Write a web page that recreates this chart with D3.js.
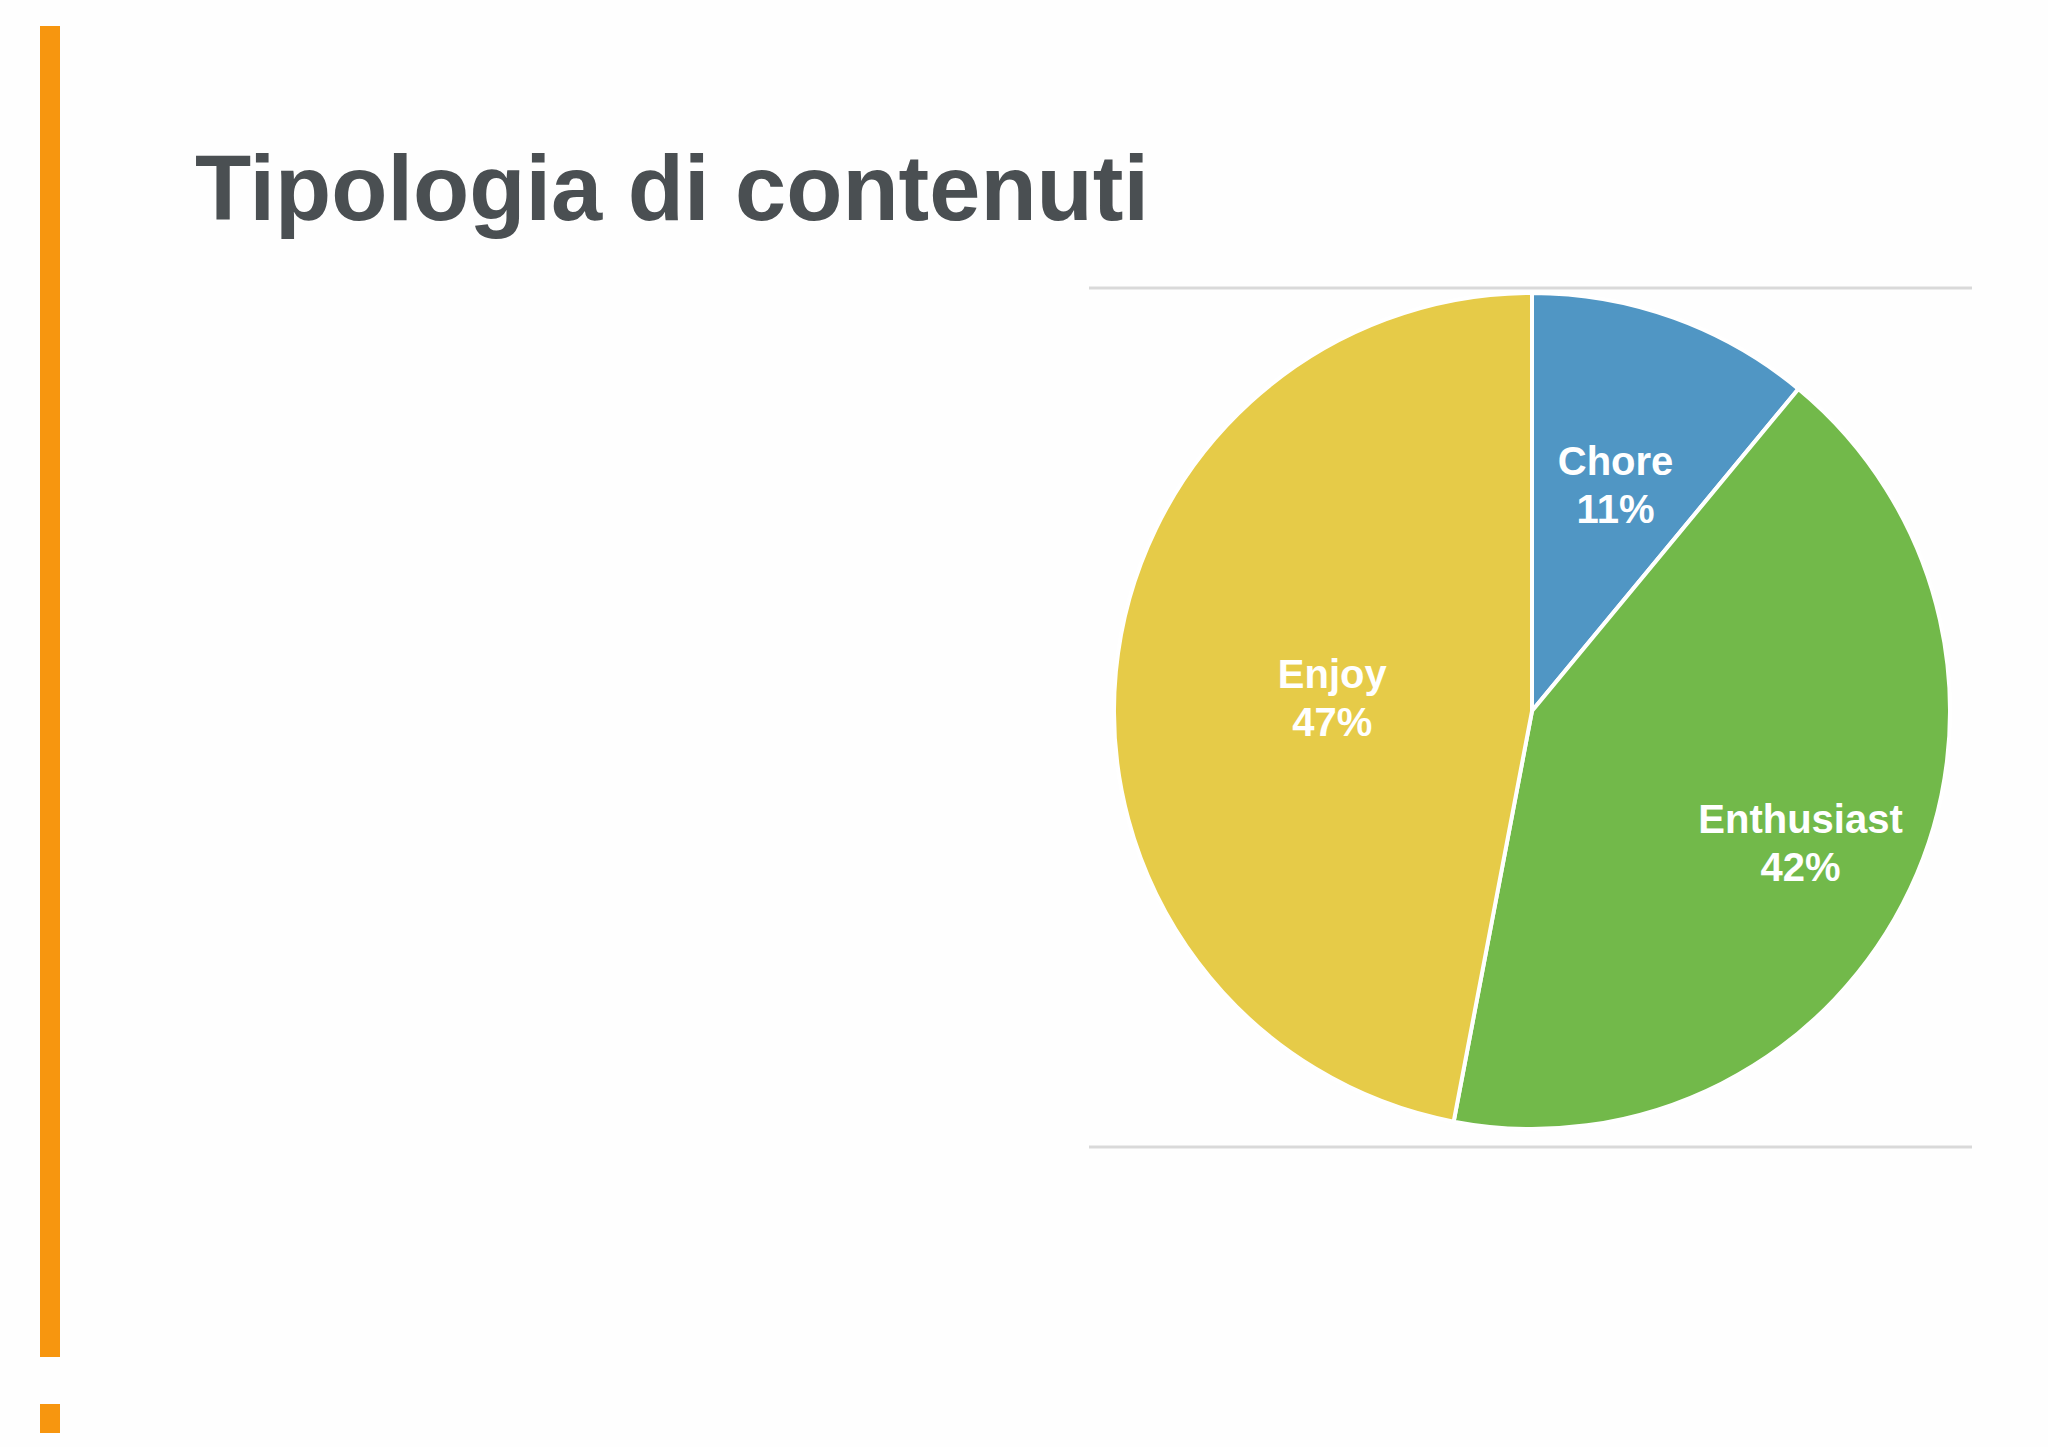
<!DOCTYPE html>
<html>
<head>
<meta charset="utf-8">
<script src="https://cdn.jsdelivr.net/npm/d3@7"></script>
<style>
  body { margin: 0; background: #fefefe; }
  text { font-family: "Liberation Sans", Arial, sans-serif; }
</style>
</head>
<body>
<svg id="chart" width="2048" height="1447"></svg>
<script>
// Data
var categories = ["Chore", "Enthusiast", "Enjoy"];
var values = [11, 42, 47];
var colors = ["#5096C4", "#72B94A", "#E6CB48"];
var labelRadius = [0.59, 0.71, 0.48];

var svg = d3.select("#chart");

// orange side bar
svg.append("rect").attr("x", 40).attr("y", 26).attr("width", 20).attr("height", 1331).attr("fill", "#F7960F");
svg.append("rect").attr("x", 40).attr("y", 1404).attr("width", 20).attr("height", 29).attr("fill", "#F7960F");

svg.append("text")
    .attr("x", 195).attr("y", 220)
    .attr("font-size", 92).attr("font-weight", "bold")
    .attr("fill", "#4A4F52")
    .text("Tipologia di contenuti");

// frame lines
[288, 1147].forEach(y => {
    svg.append("line").attr("x1", 1089).attr("x2", 1972).attr("y1", y).attr("y2", y)
        .attr("stroke", "#D9D9D9").attr("stroke-width", 3);
});

var cx = 1532, cy = 711, r = 418;
var g = svg.append("g").attr("transform", `translate(${cx},${cy})`);

var pie = d3.pie().sort(null).value(d => d.value);
var data = categories.map((c, i) => ({name: c, value: values[i], color: colors[i], lr: labelRadius[i]}));
var arcs = pie(data);
var arc = d3.arc().innerRadius(0).outerRadius(r);

g.selectAll("path").data(arcs).enter().append("path")
    .attr("d", arc)
    .attr("fill", d => d.data.color)
    .attr("stroke", "#fff").attr("stroke-width", 4);

var labels = g.selectAll(".lbl").data(arcs).enter().append("text")
    .attr("text-anchor", "middle")
    .attr("font-size", 40).attr("font-weight", "bold").attr("fill", "#fff")
    .attr("transform", d => {
        var a = (d.startAngle + d.endAngle) / 2;
        var rr = r * d.data.lr;
        return `translate(${Math.sin(a) * rr},${-Math.cos(a) * rr})`;
    });
labels.append("tspan").attr("x", 0).attr("dy", "-0.1em").text(d => d.data.name);
labels.append("tspan").attr("x", 0).attr("dy", "1.2em").text(d => d.data.value + "%");
</script>
</body>
</html>
